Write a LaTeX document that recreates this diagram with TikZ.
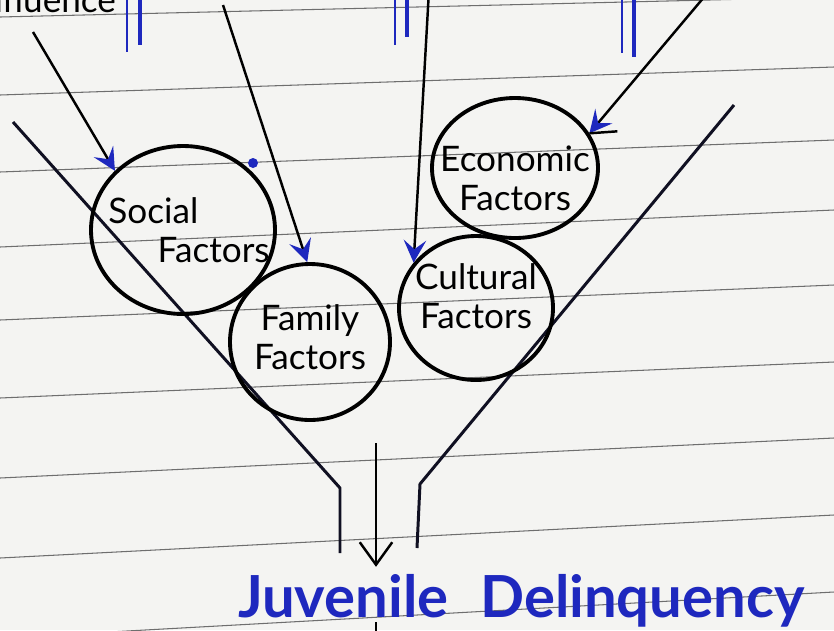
\documentclass[tikz,border=0pt]{standalone}
\usepackage{fontspec}
\setmainfont{Lato}
\usetikzlibrary{arrows.meta, calc, shapes.geometric}

\definecolor{tinta}{RGB}{30,40,190}
\definecolor{papel}{RGB}{244,244,242}
\definecolor{renglon}{RGB}{110,110,110}
\definecolor{embudo}{RGB}{16,16,34}

\begin{document}
\begin{tikzpicture}[line width=1.4pt,
  factor/.style={ellipse, draw, line width=2.2pt, inner sep=0pt},
  txt/.style={align=center, font=\fontsize{20}{22}\selectfont},
  feed/.style={-{Stealth[color=tinta, fill=tinta, length=4.5mm, width=4.5mm, inset=1.8mm]}},
  funnel/.style={embudo, line width=1.7pt, line join=round}]
  \clip (0,0) rectangle (16.68,-12.6);
  \fill[papel] (0,0) rectangle (16.68,-12.6);
  % renglones del cuaderno
  \foreach \yl/\yr in {-0.34/0.06, -1.90/-1.34, -3.44/-2.80, -4.94/-4.20, -6.40/-5.70,
                       -7.96/-7.24, -9.56/-8.76, -11.16/-10.30, -12.76/-11.84}
    \draw[renglon, line width=0.6pt] (0,\yl) -- (16.68,\yr);
  % lo que viene de arriba
  \node[anchor=base east, font=\fontsize{20}{22}\selectfont] (influ) at (2.46,-0.24) {Influence};
  \foreach \xa/\ya/\xb/\yb in {2.54/-1.04/2.80/-0.90, 7.90/-0.90/8.14/-0.74, 12.44/-1.06/12.68/-1.14} {
    \draw[tinta, line width=1.6pt] (\xa,0.1) -- (\xa,\ya);
    \draw[tinta, line width=2.6pt] (\xb,0.1) -- (\xb,\yb);
  }
  % embudo
  \coordinate (lt) at (0.26,-2.44); \coordinate (lc) at (6.80,-9.76); \coordinate (lb) at (6.80,-11.06);
  \coordinate (rt) at (14.68,-2.10); \coordinate (rc) at (8.40,-9.68); \coordinate (rb) at (8.34,-10.96);
  \draw[funnel] (lt) -- (lc) -- (lb);
  \draw[funnel] (rt) -- (rc) -- (rb);
  % factores
  \node[factor, minimum width=3.68cm, minimum height=3.36cm,
        label={[txt, align=left, xshift=0.12cm]center:Social\\\hspace*{1.4em}Factors}] (social) at (3.66,-4.60) {};
  \node[factor, minimum width=3.20cm, minimum height=3.12cm,
        label={[txt, yshift=0.1cm]center:Family\\Factors}] (family) at (6.20,-6.84) {};
  \node[factor, minimum width=3.08cm, minimum height=2.88cm,
        label={[txt, yshift=0.24cm]center:Cultural\\Factors}] (cultural) at (9.52,-6.16) {};
  \node[factor, minimum width=3.32cm, minimum height=2.80cm,
        label={[txt, yshift=-0.2cm]center:Economic\\Factors}] (economic) at (10.30,-3.36) {};
  \fill[tinta] (5.06,-3.26) circle (0.1);
  % flechas de entrada
  \coordinate (s1) at (0.66,-0.64);
  \coordinate (s2) at (4.46,-0.10);
  \coordinate (s3) at (8.58,0.20);
  \coordinate (s4) at (14.20,0.20);
  \draw[feed] (s1) -- (social.139);
  \draw[feed] (s2) -- (family.92);
  \draw[feed] (s3) -- (cultural.144);
  \draw[feed] (s4) -- (economic.25);
  \draw (economic.25) -- ++(0.56,0.04);
  % salida
  \node[anchor=base west, text=tinta, font=\fontsize{33}{36}\bfseries] (jd) at (4.62,-12.34)
    {Juvenile\hspace{0.55em}Delinquency};
  \coordinate (neck) at (7.52,-8.86);
  \draw[-{Straight Barb[length=4.5mm, width=6.5mm]}] (neck) -- (neck |- jd.north);
  \coordinate (cola) at (7.52,-12.44);
  \draw (cola) -- ++(0,-0.3);
\end{tikzpicture}
\end{document}
